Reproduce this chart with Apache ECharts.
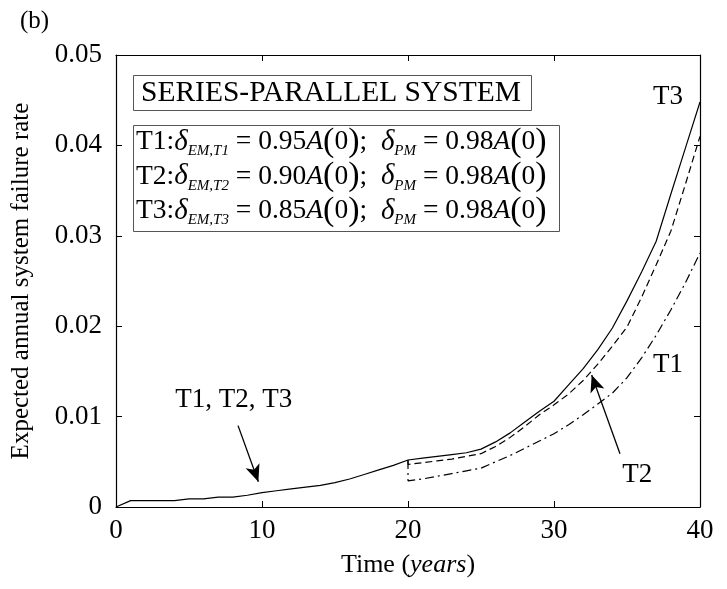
<!DOCTYPE html>
<html>
<head>
<meta charset="utf-8">
<script src="https://cdn.jsdelivr.net/npm/echarts@6/dist/echarts.min.js"></script>
<style>
html,body{margin:0;padding:0;background:#fff;}
#main{width:727px;height:589px;}
</style>
</head>
<body>
<div id="main"></div>
<script>
// ---- data ----
const commonYears = [0,1,2,3,4,5,6,7,8,9,10,11,12,13,14,15,16,17,18,19,20];
const commonRate = [0,0.0007,0.0007,0.0007,0.0007,0.0009,0.0009,0.0011,0.0011,0.0013,0.0016,0.0018,0.0020,0.0022,0.0024,0.0027,0.0031,0.0036,0.0041,0.0046,0.0052];
const lateYears = [20,21,22,23,24,25,26,27,28,29,30,31,32,33,34,35,36,37,38,39,40];
const t3Rate = [0.0052,0.0054,0.0056,0.0058,0.0060,0.0064,0.0072,0.0082,0.0094,0.0106,0.0117,0.0135,0.0153,0.0174,0.0198,0.0228,0.0260,0.0294,0.0346,0.0397,0.0448];
const t2Rate = [0.0047,0.0049,0.0051,0.0053,0.0056,0.0059,0.0067,0.0077,0.0089,0.0102,0.0113,0.0125,0.0140,0.0158,0.0178,0.0199,0.0232,0.0268,0.0305,0.0357,0.0410];
const t1Rate = [0.0029,0.0031,0.0034,0.0037,0.0040,0.0043,0.0050,0.0057,0.0065,0.0073,0.0081,0.0091,0.0102,0.0114,0.0126,0.0143,0.0165,0.0190,0.0218,0.0248,0.0281];
const xTicks = [0,10,20,30,40];
const yTicks = [0,0.01,0.02,0.03,0.04,0.05];
// annotation arrows [from, to] in data coordinates
const arrowCommon = [[8.36,0.0090],[9.75,0.0028]];
const arrowT2 = [[34.52,0.0059],[32.58,0.0146]];
// annotation labels [text, x, y] in data coordinates
const annLabels = [['T1, T2, T3',8.07,0.0118],['T3',37.8,0.0454],['T1',37.8,0.0157],['T2',35.7,0.0035]];

const FONT = '"Liberation Serif","Times New Roman",serif';

const pairs = (xs, ys) => xs.map((x,i)=>[x, ys[i]]);
const t3Data = pairs(commonYears, commonRate).concat(pairs(lateYears, t3Rate).slice(1));
const t2Data = [[lateYears[0], commonRate[commonRate.length-1]]].concat(pairs(lateYears, t2Rate));
const t1Data = [[lateYears[0], commonRate[commonRate.length-1]]].concat(pairs(lateYears, t1Rate));

const chart = echarts.init(document.getElementById('main'), null, {renderer:'canvas'});

const axisLine = {show:true, onZero:false, lineStyle:{color:'#000', width:1.2}};
const axisTick = {show:true, inside:true, length:6, lineStyle:{color:'#000', width:1}};

const option = {
  animation:false,
  backgroundColor:'#fff',
  grid:{left:116, right:27, top:55, bottom:82, containLabel:false},
  xAxis:[{
    type:'value', position:'bottom', min:xTicks[0], max:xTicks[xTicks.length-1], interval:10,
    axisLine, axisTick, splitLine:{show:false},
    axisLabel:{color:'#000', fontFamily:FONT, fontSize:27, margin:10},
    name:'Time ({i|years})', nameLocation:'middle', nameGap:45,
    nameTextStyle:{color:'#000', fontFamily:FONT, fontSize:26,
      rich:{i:{fontFamily:FONT, fontSize:26, fontStyle:'italic', color:'#000'}}}
  },{
    type:'value', position:'top', min:0, max:40, interval:10,
    axisLine, axisTick, axisLabel:{show:false}, splitLine:{show:false}
  }],
  yAxis:[{
    type:'value', position:'left', min:yTicks[0], max:yTicks[yTicks.length-1], interval:0.01,
    axisLine, axisTick, splitLine:{show:false},
    axisLabel:{color:'#000', fontFamily:FONT, fontSize:27, margin:14,
      formatter:v => v===0 ? '0' : v.toFixed(2)},
    name:'Expected annual system failure rate', nameLocation:'middle', nameGap:82,
    nameTextStyle:{color:'#000', fontFamily:FONT, fontSize:25}
  },{
    type:'value', position:'right', min:0, max:0.05, interval:0.01,
    axisLine, axisTick, axisLabel:{show:false}, splitLine:{show:false}
  }],
  series:[
    {name:'T3', type:'line', data:t3Data, symbol:'none', showSymbol:false,
      lineStyle:{color:'#000', width:1.2, type:'solid'},
      markLine:{silent:true, symbol:['none','arrow'], symbolSize:[11,17],
        label:{show:false}, lineStyle:{color:'#000', width:1.3, type:'solid'},
        data:[[{coord:arrowCommon[0]},{coord:arrowCommon[1]}],[{coord:arrowT2[0]},{coord:arrowT2[1]}]]}},
    {name:'T2', type:'line', data:t2Data, symbol:'none', showSymbol:false,
      lineStyle:{color:'#000', width:1.2, type:[7,4]}},
    {name:'T1', type:'line', data:t1Data, symbol:'none', showSymbol:false,
      lineStyle:{color:'#000', width:1.2, type:[9,4,2,4]}}
  ]
};
chart.setOption(option);

// ---- annotations (graphic) ----
const sub = {fontFamily:FONT, fontSize:15, fontStyle:'italic', color:'#000', lineHeight:15, padding:[19,0,0,0]};
const rich = {
  t:{fontFamily:FONT, fontSize:27.5, color:'#000', lineHeight:34},
  d:{fontFamily:FONT, fontSize:29, fontStyle:'italic', color:'#000', lineHeight:34},
  i:{fontFamily:FONT, fontSize:27.5, fontStyle:'italic', color:'#000', lineHeight:34},
  p:{fontFamily:FONT, fontSize:34, color:'#000', lineHeight:34},
  s:sub
};
function paramLine(k, em){
  return '{t|T'+k+':}{d|δ}{s|EM,T'+k+'}{t| = '+em+'}{i|A}{p|(}{t|0}{p|)}{t|;  }{d|δ}{s|PM}{t| = 0.98}{i|A}{p|(}{t|0}{p|)}';
}
const lineSpecs = [[1,'0.95'],[2,'0.90'],[3,'0.85']];

const graphics = [
  {type:'text', left:20, top:9, style:{text:'(b)', font:'25px '+FONT, fill:'#000'}},
  {type:'rect', shape:{x:133.5, y:75.5, width:398, height:35}, style:{fill:'#fff', stroke:'#555', lineWidth:1}},
  {type:'text', x:141, y:93, style:{text:'SERIES-PARALLEL SYSTEM', font:'29.5px '+FONT, fill:'#000', textVerticalAlign:'middle'}},
  {type:'rect', shape:{x:133.5, y:125.5, width:426, height:106}, style:{fill:'#fff', stroke:'#555', lineWidth:1}}
];
lineSpecs.forEach((ls, i) => {
  graphics.push({type:'text', x:136, y:142 + i*34.5,
    style:{text:paramLine(ls[0], ls[1]), rich, verticalAlign:'middle', align:'left'}});
});
annLabels.forEach(a => {
  const p = chart.convertToPixel({gridIndex:0}, [a[1], a[2]]);
  graphics.push({type:'text', x:p[0], y:p[1],
    style:{text:a[0], font:'27px '+FONT, fill:'#000', align:'center', verticalAlign:'middle'}});
});
chart.setOption({graphic:graphics});
</script>
</body>
</html>
